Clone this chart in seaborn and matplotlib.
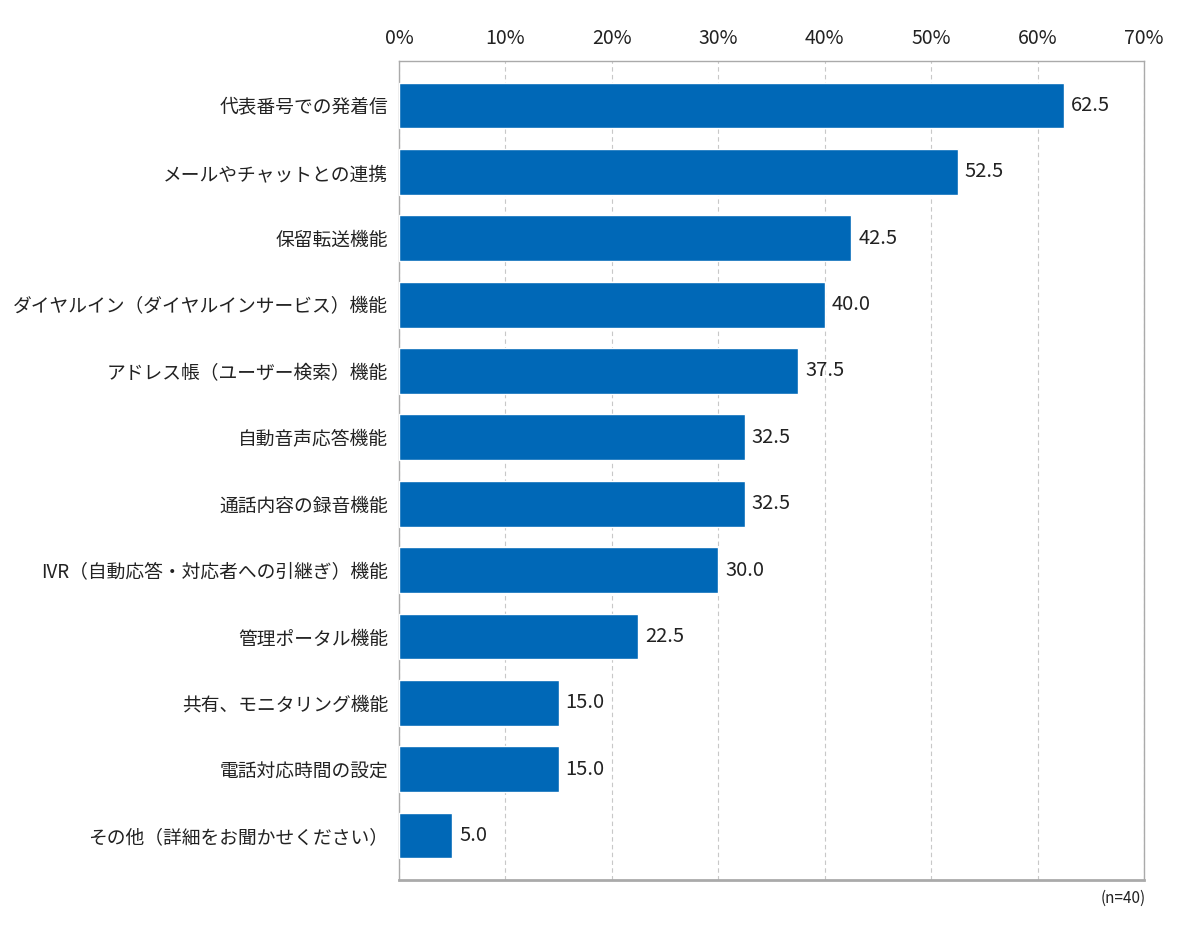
import seaborn as sns
import matplotlib.pyplot as plt
import pandas as pd

sns.set_style("white")
plt.rcParams['font.family'] = ['Noto Sans CJK JP', 'DejaVu Sans']

categories = [
    "代表番号での発着信",
    "メールやチャットとの連携",
    "保留転送機能",
    "ダイヤルイン（ダイヤルインサービス）機能",
    "アドレス帳（ユーザー検索）機能",
    "自動音声応答機能",
    "通話内容の録音機能",
    "IVR（自動応答・対応者への引継ぎ）機能",
    "管理ポータル機能",
    "共有、モニタリング機能",
    "電話対応時間の設定",
    "その他（詳細をお聞かせください）",
]
values = [62.5, 52.5, 42.5, 40.0, 37.5, 32.5, 32.5, 30.0, 22.5, 15.0, 15.0, 5.0]
x_ticks = [0, 10, 20, 30, 40, 50, 60, 70]

df = pd.DataFrame({"item": categories, "pct": values})

fig = plt.figure(figsize=(12, 9.39), dpi=100)
ax = fig.add_axes([0.3325, 0.0628, 0.6208, 0.8722])

sns.barplot(data=df, x="pct", y="item", color="#0068b7", saturation=1,
            width=0.69, ax=ax, zorder=3)

# value labels to the right of each bar
for i, v in enumerate(values):
    ax.text(v + 0.65, i, f"{v:.1f}", va="center", ha="left",
            fontsize=14.5, color="#222222")

ax.set_xlim(0, 70)
ax.set_ylim(len(categories) - 1 + 0.67, -0.67)
ax.set_xticks(x_ticks)
ax.set_xticklabels([f"{t}%" for t in x_ticks])
ax.xaxis.tick_top()
ax.tick_params(axis="x", length=0, labelsize=14, pad=9, colors="#222222")
ax.tick_params(axis="y", length=0, labelsize=13.5, pad=8, colors="#222222")
ax.set_xlabel("")
ax.set_ylabel("")

ax.grid(axis="x", linestyle=(0, (4, 3)), color="#c8c8c8", linewidth=0.8, zorder=0)
ax.grid(axis="y", visible=False)
for s in ax.spines.values():
    s.set_visible(True)
    s.set_color("#aaaaaa")
    s.set_linewidth(1.0)
ax.spines["bottom"].set_linewidth(2.0)

fig.text(0.9545, 0.0435, "(n=40)", ha="right", va="center", fontsize=11, color="#222222")

fig.savefig("out.png", dpi=100)
